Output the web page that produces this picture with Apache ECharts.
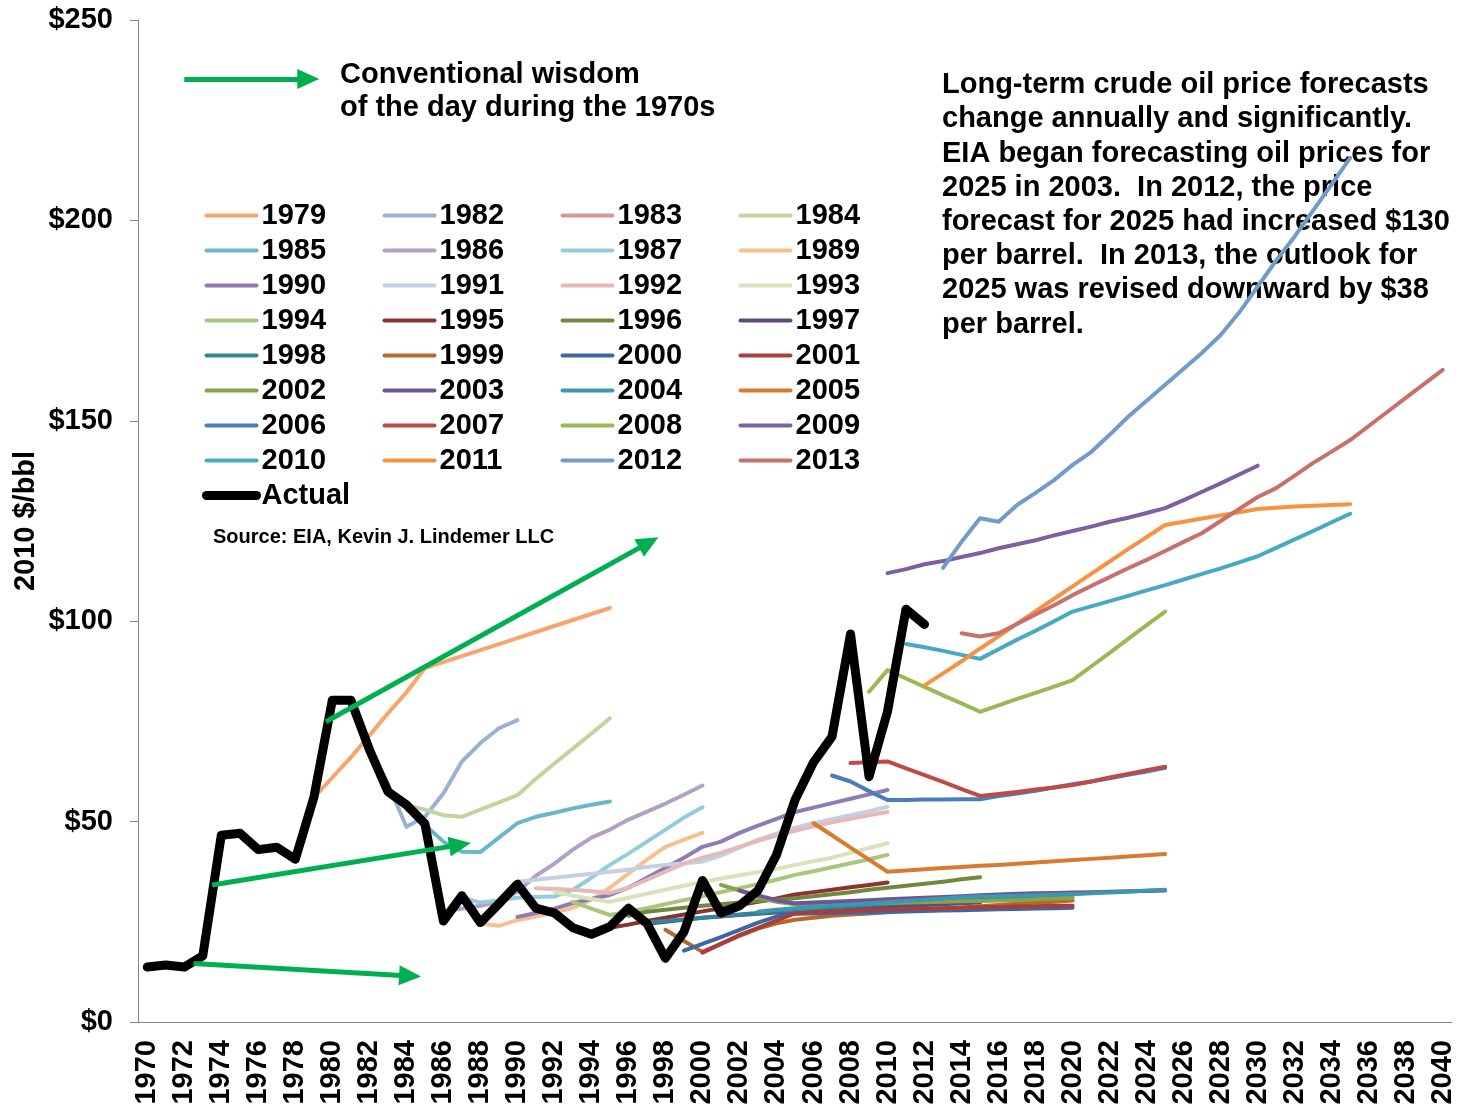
<!DOCTYPE html>
<html>
<head>
<meta charset="utf-8">
<script src="https://cdn.jsdelivr.net/npm/echarts@6/dist/echarts.min.js"></script>
<style>
html,body{margin:0;padding:0;background:#fff;}
#chart{width:1463px;height:1108px;}
</style>
</head>
<body>
<div id="chart"></div>
<script>
// ---------------- DATA ----------------
const years = ['1970','1971','1972','1973','1974','1975','1976','1977','1978','1979',
  '1980','1981','1982','1983','1984','1985','1986','1987','1988','1989',
  '1990','1991','1992','1993','1994','1995','1996','1997','1998','1999',
  '2000','2001','2002','2003','2004','2005','2006','2007','2008','2009',
  '2010','2011','2012','2013','2014','2015','2016','2017','2018','2019',
  '2020','2021','2022','2023','2024','2025','2026','2027','2028','2029',
  '2030','2031','2032','2033','2034','2035','2036','2037','2038','2039','2040'];

const yTicks = [0, 50, 100, 150, 200, 250];

// Actual price, 1970-2012 (2010 $/bbl)
const actualStart = 1970;
const actual = [13.7,14.2,13.7,16.5,46.6,47.1,43.0,43.6,40.6,56.0,
  80.3,80.3,68.0,57.5,54.2,49.5,25.2,31.5,24.8,29.5,
  34.4,28.4,27.2,23.5,21.9,23.8,28.4,24.6,15.9,22.5,
  35.3,27.2,29.0,32.8,41.7,55.4,64.8,71.2,96.8,61.2,
  77.5,103.0,99.2];

// Forecast vintages: first year plotted and values
const f1979Start = 1979;
const f1979 = [56,61,66,71.5,77,82.2,88.3,89.8,91.3,92.8,94.3,95.8,97.3,98.8,100.3,101.8,103.3];
const f1982Start = 1982;
const f1982 = [68,59.5,48.7,51.2,57,65,69.6,73.3,75.3];
const f1983Start = 1983;
const f1983 = [57.5,54.2,49.5];
const f1984Start = 1984;
const f1984 = [54.1,53,51.6,51.2,53,54.8,56.6,60.7,64.5,68.2,72,75.8];
const f1985Start = 1985;
const f1985 = [49.2,45,42.5,42.4,46,49.6,51.2,52.2,53.3,54.2,55];
const f1986Start = 1986;
const f1986 = [27.5,28.3,29,30,32.5,36.5,39.5,43,46,48,50.5,52.5,54.5,56.7,59];
const f1987Start = 1987;
const f1987 = [31,29.8,30.3,31,31.2,31.3,33,36,39.2,42,45,48,51,53.6];
const f1989Start = 1988;
const f1989 = [24.6,24,25.4,26.3,27.3,28.5,30.5,33.5,37,40.5,43.7,45.5,47.2];
const f1990Start = 1990;
const f1990 = [26.2,27.2,28.3,29.7,30.7,31.7,33.5,36,38.5,41,43.7,45,47.2,49,50.7,52.4,53.5,54.6,55.7,56.8,57.9];
const f1991Start = 1990;
const f1991 = [35,35.5,36,36.5,37,37.5,38,38.7,39.2,39.6,40,41.5,43.5,45.5,47,48.5,49.6,50.6,51.6,52.6,53.7];
const f1992Start = 1991;
const f1992 = [33.4,33.2,33,32.6,32.2,33.5,35.5,37.5,39.5,41,42.2,43.7,45.2,46.5,47.7,48.8,49.8,50.7,51.6,52.4];
const f1993Start = 1992;
const f1993 = [32.5,31.5,30.7,30,31,32,33,34,34.9,35.8,36.6,37.4,38.2,39.2,40.1,41,42.2,43.4,44.6];
const f1994Start = 1993;
const f1994 = [30,28.3,26.7,27.5,28.4,29.4,30.4,31.4,32.4,33.4,34.4,35.5,36.7,37.6,38.6,39.6,40.6,41.7];
const f1995Start = 1995;
const f1995 = [23.5,24.3,25.2,26,26.8,27.6,28.4,29.2,30,30.8,31.8,32.4,33,33.6,34.2,34.8];
const f1996Start = 1996;
const f1996 = [26.5,27.5,28,28.5,29,29.4,29.8,30.2,30.5,30.9,31.4,31.9,32.4,33,33.5,34,34.5,35,35.6,36.1];
const f1997Start = 1997;
const f1997 = [24.5,25,25.5,26,26.3,26.7,27,27.3,27.6,27.9,28.2,28.4,28.6,28.8,29,29.2,29.4,29.6,29.8];
const f1998Start = 1997;
const f1998 = [24.8,25.2,25.6,26,26.4,26.8,27.2,27.6,28,28.3,28.6,28.9,29.2,29.5,29.8,30,30.2,30.5,30.7,30.9,31.1,31.3,31.5,31.7];
const f1999Start = 1998;
const f1999 = [23,20.2,17.5,19.5,21.5,23.3,24.6,25.5,26,26.5,26.8,27.1,27.4,27.7,28,28.3,28.6,28.9,29.2,29.5,29.8,30,30.3];
const f2000Start = 1999;
const f2000 = [17.8,19.5,21.2,23,24.8,26.3,27,27.1,27.2,27.3,27.4,27.5,27.6,27.7,27.8,27.9,28,28.1,28.2,28.3,28.4,28.5];
const f2001Start = 2000;
const f2001 = [17.3,19.5,21.7,23.5,25.3,27.1,27.4,27.6,27.8,28,28.1,28.2,28.3,28.4,28.5,28.6,28.7,28.8,28.9,29,29];
const f2002Start = 2001;
const f2002 = [34.2,32.8,31.2,30,29.4,29.3,29.4,29.5,29.6,29.7,29.8,29.9,30,30.1,30.2,30.3,30.4,30.6,30.8,31];
const f2003Start = 2002;
const f2003 = [32.8,31.6,30.4,29.6,29.8,30,30.2,30.4,30.6,30.8,31,31.2,31.4,31.6,31.8,32,32.1,32.2,32.3,32.4,32.5,32.6,32.7,32.8];
const f2004Start = 2003;
const f2004 = [27.5,28,28.4,28.7,29,29.3,29.6,29.9,30.2,30.5,30.8,31.1,31.3,31.4,31.5,31.6,31.8,31.9,32.1,32.3,32.5,32.8,33];
const f2005Start = 2006;
const f2005 = [49.6,46.6,43.5,40.5,37.5,37.8,38.1,38.4,38.7,39,39.2,39.5,39.8,40.1,40.4,40.7,41,41.3,41.6,41.9];
const f2006Start = 2007;
const f2006 = [61.5,60,57.6,55.4,55.4,55.5,55.5,55.6,55.6,56.4,57,57.7,58.5,59.3,60,60.8,61.7,62.5,63.4];
const f2007Start = 2008;
const f2007 = [64.6,64.8,65,63.3,61.6,59.9,58.1,56.4,56.9,57.4,58,58.5,59.1,60,61,61.9,62.8,63.7];
const f2008Start = 2009;
const f2008 = [82.4,87.8,85.7,83.6,81.5,79.5,77.4,79,80.6,82.1,83.7,85.3,88.7,92.1,95.6,99,102.4];
const f2009Start = 2010;
const f2009 = [112,113,114.2,115,116,117,118.2,119.2,120.2,121.4,122.5,123.6,124.8,125.8,127,128.2,130.2,132.3,134.4,136.6,138.8];
const f2010Start = 2011;
const f2010 = [94.3,93.5,92.6,91.6,90.6,93,95.4,97.6,100,102.4,103.7,105,106.3,107.7,109,110.4,111.8,113.2,114.7,116.2,118.3,120.4,122.5,124.7,126.8];
const f2011Start = 2012;
const f2011 = [84,87,90,93.2,96.2,99.4,102.5,105.6,108.7,111.8,114.9,118,121,124,124.8,125.6,126.4,127.2,128,128.3,128.6,128.8,129,129.2];
const f2012Start = 2013;
const f2012 = [113.3,119.8,125.7,124.8,129,132,135.2,139,142.2,146.5,151,155,159,163,167,171.4,177,183.5,190,196,202.5,209,215.6];
const f2013Start = 2014;
const f2013 = [97,96.2,97,99.3,101.7,104,106.5,108.8,111,113.2,115.3,117.5,119.8,122,125,128,131,133.2,136.3,139.5,142.3,145.2,148.7,152.2,155.7,159.2,162.7];

// Vintage labels, start years, values (in legend order)
const vintageNames = ['1979','1982','1983','1984','1985','1986','1987','1989','1990','1991','1992','1993',
  '1994','1995','1996','1997','1998','1999','2000','2001','2002','2003','2004','2005',
  '2006','2007','2008','2009','2010','2011','2012','2013'];
const vintageStarts = [f1979Start,f1982Start,f1983Start,f1984Start,f1985Start,f1986Start,f1987Start,f1989Start,
  f1990Start,f1991Start,f1992Start,f1993Start,f1994Start,f1995Start,f1996Start,f1997Start,f1998Start,
  f1999Start,f2000Start,f2001Start,f2002Start,f2003Start,f2004Start,f2005Start,f2006Start,f2007Start,
  f2008Start,f2009Start,f2010Start,f2011Start,f2012Start,f2013Start];
const vintageValues = [f1979,f1982,f1983,f1984,f1985,f1986,f1987,f1989,f1990,f1991,f1992,f1993,
  f1994,f1995,f1996,f1997,f1998,f1999,f2000,f2001,f2002,f2003,f2004,f2005,
  f2006,f2007,f2008,f2009,f2010,f2011,f2012,f2013];

// ---------------- STYLE ----------------
const vintageColors = ['#F8A46C','#9BB0D5','#D99795','#C0D59C','#6AB7CB','#B2A1C6','#93CCDC','#FABF8F',
  '#8E7CB6','#C4CFE3','#E5B9B7','#D6E3BC','#A9C77B','#8B3331','#71893F','#5F4A7D',
  '#31849B','#B7682B','#3C66A6','#A83E3B','#86A44A','#6F5595','#3A98AF','#D97A2F',
  '#4A7EBB','#BE4B48','#98B954','#7D60A0','#46AAC5','#F69240','#729ACA','#C9706D'];

// Annotation arrows: [fromYear, fromValue], [toYear, toValue]
const arrowCoords = [
  [[1972.0, 235.3], [1978.7, 235.3]],
  [[1979.65, 74.9], [1997.1, 119.6]],
  [[1973.5, 34.2], [1986.9, 44.2]],
  [[1972.5, 14.6], [1984.2, 11.5]]
];

const FONT = "'Liberation Sans', Arial, Helvetica, sans-serif";

function toPairs(start, vals) {
  return vals.map((v, i) => [String(start + i), v]);
}

const series = [];
vintageNames.forEach((name, k) => {
  series.push({
    name: name,
    type: 'line',
    data: toPairs(vintageStarts[k], vintageValues[k]),
    symbol: 'none',
    showSymbol: false,
    smooth: false,
    silent: true,
    z: 2,
    color: vintageColors[k],
    lineStyle: { width: 4, color: vintageColors[k], join: 'round', cap: 'round' }
  });
});
series.push({
  name: 'Actual',
  type: 'line',
  data: toPairs(actualStart, actual),
  symbol: 'none',
  showSymbol: false,
  silent: true,
  z: 3,
  color: '#000000',
  lineStyle: { width: 9, color: '#000000', join: 'round', cap: 'round' }
});
// annotation arrows
series.push({
  name: 'arrows',
  type: 'line',
  xAxisIndex: 1,
  data: [],
  symbol: 'none',
  silent: true,
  z: 5,
  markLine: {
    silent: true,
    animation: false,
    symbol: ['none', 'triangle'],
    symbolSize: [20, 22],
    label: { show: false },
    lineStyle: { color: '#00B050', width: 5, type: 'solid' },
    emphasis: { disabled: true },
    data: arrowCoords.map(a => [{ coord: a[0] }, { coord: a[1] }])
  }
});

const chart = echarts.init(document.getElementById('chart'), null, { renderer: 'canvas' });
chart.setOption({
  animation: false,
  backgroundColor: '#ffffff',
  textStyle: { fontFamily: FONT },
  grid: { left: 138, right: 11, top: 20, bottom: 86, containLabel: false, outerBoundsMode: 'none' },
  legend: {
    data: vintageNames.concat(['Actual']),
    left: 202,
    top: 201,
    width: 720,
    padding: 0,
    itemGap: 6,
    itemWidth: 50,
    itemHeight: 20,
    selectedMode: false,
    itemStyle: { opacity: 0 },
    lineStyle: { width: 'inherit', cap: 'round' },
    textStyle: { fontFamily: FONT, fontSize: 29, fontWeight: 'bold', color: '#000', width: 115, lineHeight: 28, overflow: 'none' }
  },
  xAxis: [{
    type: 'category',
    data: years,
    boundaryGap: true,
    axisLine: { lineStyle: { color: '#868686', width: 1 } },
    axisTick: { interval: 0, alignWithLabel: false, length: 8, lineStyle: { color: '#868686' } },
    axisLabel: { interval: 1, rotate: 90, margin: 18, fontFamily: FONT, fontSize: 29, fontWeight: 'bold', color: '#000' },
    splitLine: { show: false }
  }, {
    type: 'value',
    min: 1969.5,
    max: 2040.5,
    show: false,
    splitLine: { show: false }
  }],
  yAxis: {
    type: 'value',
    min: yTicks[0],
    max: yTicks[yTicks.length - 1],
    interval: 50,
    name: '2010 $/bbl',
    nameLocation: 'middle',
    nameGap: 98,
    nameMoveOverlap: false,
    nameTextStyle: { fontFamily: FONT, fontSize: 29, fontWeight: 'bold', color: '#000' },
    axisLine: { show: true, lineStyle: { color: '#868686', width: 1 } },
    axisTick: { show: true, length: 8, lineStyle: { color: '#868686' } },
    axisLabel: { margin: 25, formatter: v => '$' + v, fontFamily: FONT, fontSize: 29, fontWeight: 'bold', color: '#000' },
    splitLine: { show: false }
  },
  graphic: [
    {
      type: 'text', left: 340, top: 58, silent: true,
      style: { text: 'Conventional wisdom\nof the day during the 1970s', font: 'bold 29px ' + FONT, fill: '#000', lineHeight: 33 }
    },
    {
      type: 'text', left: 942, top: 68, silent: true,
      style: {
        text: 'Long-term crude oil price forecasts\nchange annually and significantly.\nEIA began forecasting oil prices for\n2025 in 2003.  In 2012, the price\nforecast for 2025 had increased $130\nper barrel.  In 2013, the outlook for\n2025 was revised downward by $38\nper barrel.',
        font: 'bold 29px ' + FONT, fill: '#000', lineHeight: 34.2
      }
    },
    {
      type: 'text', left: 213, top: 527, silent: true,
      style: { text: 'Source: EIA, Kevin J. Lindemer LLC', font: 'bold 20px ' + FONT, fill: '#000' }
    }
  ],
  series: series
});
</script>
</body>
</html>
